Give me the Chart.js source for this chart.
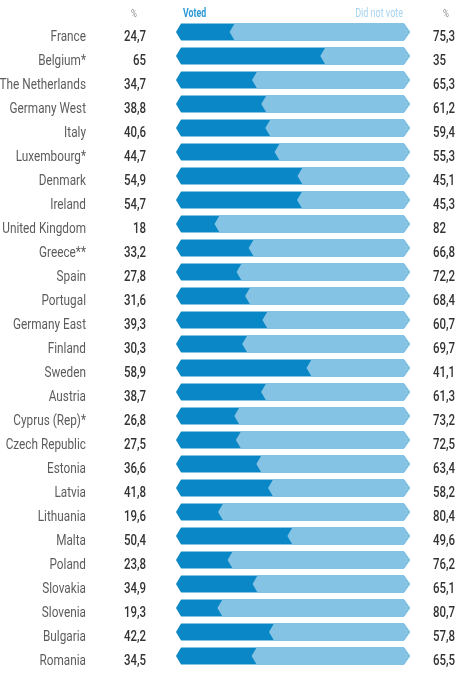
<!DOCTYPE html>
<html>
<head>
    <title>Voter turnout</title>
    <script src="https://cdn.jsdelivr.net/npm/chart.js"></script>
    <style>
        html, body { margin: 0; padding: 0; background: #fff; }
        #wrap { width: 465px; height: 683px; }
    </style>
</head>
<body>
    <div id="wrap"><canvas id="myChart" width="465" height="683"></canvas></div>
    <script>
        var countries = ['France', 'Belgium*', 'The Netherlands', 'Germany West', 'Italy', 'Luxembourg*',
            'Denmark', 'Ireland', 'United Kingdom', 'Greece**', 'Spain', 'Portugal', 'Germany East',
            'Finland', 'Sweden', 'Austria', 'Cyprus (Rep)*', 'Czech Republic', 'Estonia', 'Latvia',
            'Lithuania', 'Malta', 'Poland', 'Slovakia', 'Slovenia', 'Bulgaria', 'Romania'];
        var voted = [24.7, 65, 34.7, 38.8, 40.6, 44.7, 54.9, 54.7, 18, 33.2, 27.8, 31.6, 39.3,
            30.3, 58.9, 38.7, 26.8, 27.5, 36.6, 41.8, 19.6, 50.4, 23.8, 34.9, 19.3, 42.2, 34.5];
        var notVoted = [75.3, 35, 65.3, 61.2, 59.4, 55.3, 45.1, 45.3, 82, 66.8, 72.2, 68.4, 60.7,
            69.7, 41.1, 61.3, 73.2, 72.5, 63.4, 58.2, 80.4, 49.6, 76.2, 65.1, 80.7, 57.8, 65.5];

        var darkBlue = '#0a87c6';
        var lightBlue = '#85c3e5';

        function fmt(v) { return String(v).replace('.', ','); }

        // condensed text: squeeze horizontally
        function txt(ctx, s, x, y, align, font, color, sx) {
            ctx.save();
            ctx.translate(x, y);
            ctx.scale(sx, 1);
            ctx.font = font;
            ctx.fillStyle = color;
            ctx.textAlign = align;
            ctx.textBaseline = 'alphabetic';
            ctx.fillText(s, 0, 0);
            ctx.restore();
        }

        function chevron(ctx, x0, x1, y, h, d, tipR, color) {
            var t = y - h / 2, b = y + h / 2;
            ctx.beginPath();
            ctx.moveTo(x0, y);
            ctx.lineTo(x0 + d, t);
            ctx.lineTo(x1, t);
            ctx.lineTo(x1 + tipR, y);
            ctx.lineTo(x1, b);
            ctx.lineTo(x0 + d, b);
            ctx.closePath();
            ctx.fillStyle = color;
            ctx.fill();
        }

        var arrowBars = {
            id: 'arrowBars',
            afterDatasetsDraw: function(chart) {
                var ctx = chart.ctx;
                var xs = chart.scales.x;
                var m0 = chart.getDatasetMeta(0).data;
                var m1 = chart.getDatasetMeta(1).data;
                var end = xs.getPixelForValue(100) + 3;
                var d = 5;
                for (var i = 0; i < m0.length; i++) {
                    var a = m0[i], b = m1[i];
                    chevron(ctx, a.base, end, a.y, a.height, d, 6, darkBlue);
                    chevron(ctx, b.base - 2, end, b.y, b.height, d, 6, lightBlue);
                }
            },
            afterDraw: function(chart) {
                var ctx = chart.ctx;
                var ys = chart.scales.y;
                var lab = '400 15.5px Roboto';
                var val = '500 15.5px Roboto';
                for (var i = 0; i < countries.length; i++) {
                    var y = ys.getPixelForValue(i) + 8.5;
                    txt(ctx, countries[i], 86, y, 'right', lab, '#5c5c5c', 0.76);
                    txt(ctx, fmt(voted[i]), 146, y, 'right', val, '#333333', 0.74);
                    txt(ctx, fmt(notVoted[i]), 433, y, 'left', val, '#333333', 0.74);
                }
                txt(ctx, '%', 134, 17, 'center', '400 10px Roboto', '#8a8a8a', 0.8);
                txt(ctx, '%', 446, 17, 'center', '400 10px Roboto', '#8a8a8a', 0.8);
                txt(ctx, 'Voted', 183, 17, 'left', '700 12.5px Roboto', '#2a98d6', 0.7);
                txt(ctx, 'Did not vote', 403, 17, 'right', '400 12.5px Roboto', '#a6d3ee', 0.72);
            }
        };

        new Chart(document.getElementById('myChart'), {
            type: 'bar',
            data: {
                labels: countries,
                datasets: [
                    { label: 'Voted', data: voted, backgroundColor: 'rgba(0,0,0,0)', barThickness: 17 },
                    { label: 'Did not vote', data: notVoted, backgroundColor: 'rgba(0,0,0,0)', barThickness: 17 }
                ]
            },
            options: {
                indexAxis: 'y',
                responsive: false,
                animation: false,
                layout: { padding: { left: 176, right: 64, top: 20, bottom: 15 } },
                plugins: { legend: { display: false }, tooltip: { enabled: false } },
                scales: {
                    x: { stacked: true, min: 0, max: 100, display: false },
                    y: { stacked: true, display: false }
                }
            },
            plugins: [arrowBars]
        });
    </script>
</body>
</html>
